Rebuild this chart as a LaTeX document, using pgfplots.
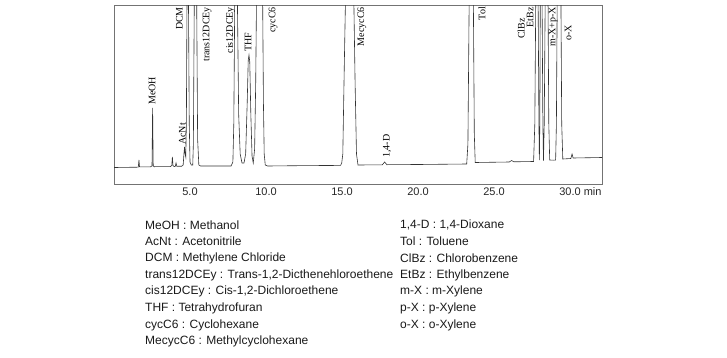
\documentclass[border=0pt]{standalone}
\usepackage{fontspec}
\setmainfont{Liberation Serif}
\setsansfont{Liberation Sans}
\usepackage{pgfplots}
\pgfplotsset{compat=1.18}
\begin{document}
\begin{tikzpicture}[x=1pt,y=1pt]
\path[use as bounding box] (0,0) rectangle (727,357);
\begin{axis}[
  at={(114pt,173pt)}, anchor=south west,
  width=488pt, height=179pt, scale only axis,
  xmin=0, xmax=32.1, ymin=0, ymax=179,
  axis line style={draw=black!55, line width=1pt},
  xtick={5,10,15,20,25,30},
  xticklabels={5.0,10.0,15.0,20.0,25.0,{30.0\rlap{ min}}},
  xticklabel style={font=\fontsize{11}{13}\selectfont\sffamily, text=black!85},
  ytick=\empty,
  major tick length=0pt,
  clip=true,
  every node/.style={font=\fontsize{12.5}{14}\selectfont\rmfamily, text=black!85},
]
\addplot[black!80, line width=0.6pt] coordinates {
(0.00,16.5) (1.50,16.8) (1.60,17.0) (1.64,24) (1.68,17.2)
(2.40,17.2) (2.50,18.0) (2.54,76) (2.58,18.0) (2.65,17.3)
(3.70,17.4) (3.80,18.5) (3.84,27) (3.88,18.5) (3.95,17.5)
(4.03,17.6) (4.08,21) (4.13,17.8) (4.45,17.8) (4.55,19)
(4.60,30) (4.64,37) (4.68,30) (4.72,27)
(4.76,60) (4.80,179) (4.85,260) (4.90,179) (4.95,60) (5.00,22)
(5.08,19) (5.18,19)
(5.22,40) (5.28,179) (5.36,280) (5.44,179) (5.50,45) (5.58,19)
(5.70,18) (7.70,18)
(7.82,22) (7.88,60) (7.94,179) (8.03,300) (8.12,179) (8.20,70) (8.30,30) (8.42,21) (8.55,21)
(8.66,30) (8.76,80) (8.83,124) (8.88,129) (8.93,122) (9.00,70) (9.08,28) (9.16,21)
(9.25,35) (9.32,100) (9.37,179) (9.58,350) (9.78,179) (9.83,80) (9.88,30) (9.95,19) (10.10,18)
(12.00,18.3) (14.90,18.6)
(14.98,21) (15.05,30) (15.15,120) (15.22,179) (15.50,400) (15.78,179) (15.86,100) (15.95,30) (16.05,19)
(17.65,19.2) (17.80,22) (17.95,19.3)
(20.00,19.5) (23.20,20)
(23.28,40) (23.36,179) (23.50,400) (23.64,179) (23.70,50) (23.76,21.5)
(26.00,22) (26.15,23.5) (26.30,22.2) (27.60,22.5)
(27.68,60) (27.74,179) (27.82,300) (27.90,179) (27.95,60) (27.98,24)
(28.01,60) (28.04,179) (28.10,300) (28.16,179) (28.21,60) (28.25,23.5)
(28.30,60) (28.36,179) (28.45,300) (28.55,179) (28.60,60) (28.66,24)
(28.90,23.8) (29.05,24)
(29.10,60) (29.15,179) (29.27,300) (29.40,179) (29.45,60) (29.52,25)
(30.05,25.5) (30.13,30) (30.20,26) (32.10,26.5)
};
\node[rotate=90, anchor=west, inner sep=0pt] at (axis cs:2.50,79) {MeOH};
\node[rotate=90, anchor=west, inner sep=0pt] at (axis cs:4.50,39) {AcNt};
\node[rotate=90, anchor=east, inner sep=0pt] at (axis cs:4.30,177) {DCM};
\node[rotate=90, anchor=east, inner sep=0pt] at (axis cs:6.12,177) {trans12DCEy};
\node[rotate=90, anchor=east, inner sep=0pt] at (axis cs:7.68,177) {cis12DCEy};
\node[rotate=90, anchor=west, inner sep=0pt] at (axis cs:8.82,132) {THF};
\node[rotate=90, anchor=east, inner sep=0pt] at (axis cs:10.46,177) {cycC6};
\node[rotate=90, anchor=east, inner sep=0pt] at (axis cs:16.30,177) {MecycC6};
\node[rotate=90, anchor=west, inner sep=0pt] at (axis cs:17.96,26) {1,4-D};
\node[rotate=90, anchor=east, inner sep=0pt] at (axis cs:24.20,177) {Tol};
\node[rotate=90, anchor=east, inner sep=0pt] at (axis cs:26.78,166) {ClBz};
\node[rotate=90, anchor=east, inner sep=0pt] at (axis cs:27.37,177) {EtBz};
\node[rotate=90, anchor=east, inner sep=0pt] at (axis cs:28.88,177) {m-X+p-X};
\node[rotate=90, anchor=east, inner sep=0pt] at (axis cs:29.87,159) {o-X};
\end{axis}
\begin{scope}[every node/.style={anchor=west, inner sep=0pt, font=\fontsize{12}{14}\selectfont\sffamily, text=black!90}]
\node at (145,357-225) {MeOH : Methanol};
\node at (145,357-241.7) {AcNt : Acetonitrile};
\node at (145,357-258.3) {DCM : Methylene Chloride};
\node at (145,357-275) {trans12DCEy : Trans-1,2-Dicthenehloroethene};
\node at (145,357-291.7) {cis12DCEy : Cis-1,2-Dichloroethene};
\node at (145,357-308.3) {THF : Tetrahydrofuran};
\node at (145,357-325) {cycC6 : Cyclohexane};
\node at (145,357-341) {MecycC6 : Methylcyclohexane};
\node at (400,357-225) {1,4-D : 1,4-Dioxane};
\node at (400,357-241.7) {Tol : Toluene};
\node at (400,357-258.3) {ClBz : Chlorobenzene};
\node at (400,357-275) {EtBz : Ethylbenzene};
\node at (400,357-291.7) {m-X : m-Xylene};
\node at (400,357-308.3) {p-X : p-Xylene};
\node at (400,357-325) {o-X : o-Xylene};
\end{scope}
\end{tikzpicture}
\end{document}
